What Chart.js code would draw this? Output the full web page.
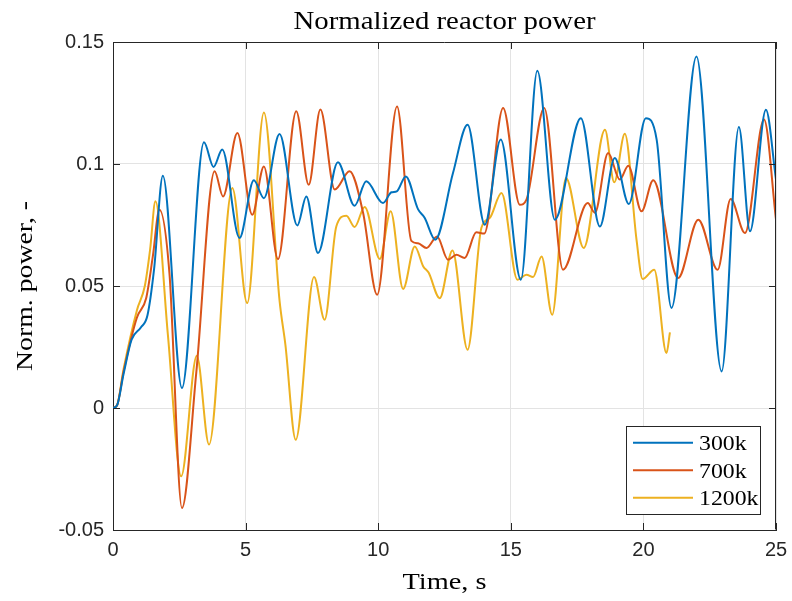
<!DOCTYPE html>
<html>
<head>
<meta charset="utf-8">
<script src="https://cdn.jsdelivr.net/npm/chart.js@4/dist/chart.umd.min.js"></script>
<style>
  html, body { margin: 0; padding: 0; background: #ffffff; }
  #wrap { width: 792px; height: 601px; }
</style>
</head>
<body>
<div id="wrap"><canvas id="c" width="792" height="601"></canvas></div>
<script>
// ---- data ----
const chartTitle = 'Normalized reactor power';
const xTitle = 'Time, s';
const yTitle = 'Norm. power, -';
const seriesNames = ['300k', '700k', '1200k'];
const seriesColors = ['#0072BD', '#D95319', '#EDB120'];

const t300 = [0, 0.15, 0.4, 0.7, 1.05, 1.3, 1.55, 1.88, 2.6, 3.43, 3.79, 4.12, 4.77, 5.31, 5.69, 6.28, 6.95, 7.29, 7.73, 8.48, 9.11, 9.55, 10.18, 10.5, 10.7, 11.04, 11.5, 11.75, 12.15, 12.82, 13.37, 14.02, 14.62, 15.38, 16.0, 16.66, 17.64, 18.36, 18.92, 19.45, 20.09, 20.5, 21.06, 22.0, 22.95, 23.6, 24.02, 24.62, 25.0];
const p300 = [0, 0.001, 0.014, 0.028, 0.033, 0.038, 0.057, 0.0952, 0.0082, 0.1089, 0.0988, 0.1059, 0.0697, 0.0933, 0.086, 0.1123, 0.0748, 0.0867, 0.0635, 0.1007, 0.0829, 0.0929, 0.084, 0.0884, 0.0888, 0.0949, 0.0815, 0.078, 0.069, 0.0963, 0.1161, 0.0751, 0.11, 0.0526, 0.1382, 0.0772, 0.1188, 0.0744, 0.1025, 0.0836, 0.1188, 0.11, 0.041, 0.1441, 0.015, 0.1152, 0.0724, 0.1222, 0.0936];

const t700 = [0, 0.15, 0.4, 0.9, 1.25, 1.5, 1.75, 2.13, 2.6, 3.14, 3.83, 4.15, 4.69, 5.25, 5.69, 6.22, 6.91, 7.38, 7.82, 8.36, 8.92, 9.43, 9.96, 10.71, 11.25, 11.5, 11.82, 12.22, 12.63, 12.95, 13.26, 13.7, 14.0, 14.71, 15.34, 15.59, 16.26, 16.97, 17.9, 18.17, 18.67, 19.11, 19.43, 19.93, 20.37, 21.31, 22.07, 22.8, 23.29, 23.83, 24.55, 25.0];
const p700 = [0, 0.001, 0.015, 0.037, 0.045, 0.062, 0.0813, 0.055, -0.041, 0.0145, 0.097, 0.0867, 0.1127, 0.0792, 0.099, 0.061, 0.1216, 0.0915, 0.1223, 0.0895, 0.097, 0.08, 0.0464, 0.1236, 0.0685, 0.0675, 0.0656, 0.0703, 0.0608, 0.0628, 0.0615, 0.072, 0.0715, 0.123, 0.0833, 0.0854, 0.123, 0.0567, 0.084, 0.08, 0.1045, 0.0936, 0.0993, 0.0806, 0.0933, 0.0533, 0.0772, 0.0567, 0.0857, 0.0717, 0.1182, 0.0772];

const t1200 = [0, 0.15, 0.4, 0.9, 1.2, 1.4, 1.6, 2.07, 2.57, 3.16, 3.62, 4.5, 5.06, 5.69, 6.28, 6.5, 6.89, 7.58, 7.98, 8.42, 8.8, 9.11, 9.49, 10.06, 10.47, 10.94, 11.38, 11.7, 11.9, 12.32, 12.8, 13.37, 13.89, 14.21, 14.65, 15.25, 15.59, 15.84, 16.16, 16.56, 17.08, 17.75, 18.55, 18.9, 19.3, 19.74, 19.97, 20.41, 20.87, 21.0];
const p1200 = [0, 0.001, 0.016, 0.04, 0.05, 0.065, 0.0847, 0.03, -0.028, 0.0214, -0.015, 0.0902, 0.043, 0.1211, 0.044, 0.026, -0.013, 0.0537, 0.0362, 0.0744, 0.0788, 0.0742, 0.0824, 0.0611, 0.0806, 0.0488, 0.0662, 0.058, 0.0555, 0.045, 0.0646, 0.0239, 0.0738, 0.0779, 0.0881, 0.0526, 0.0546, 0.0537, 0.0621, 0.0382, 0.0943, 0.0656, 0.114, 0.0925, 0.1124, 0.069, 0.0529, 0.0567, 0.0225, 0.031];

const xMin = 0, xMax = 25, xStep = 5;
const yMin = -0.05, yMax = 0.15, yStep = 0.05;

// ---- build datasets ----
function pts(ts, ps) { return ts.map((t, i) => ({ x: t, y: ps[i] })); }
const allT = [t300, t700, t1200];
const allP = [p300, p700, p1200];
const datasets = seriesNames.map((name, i) => ({
  label: name,
  data: pts(allT[i], allP[i]),
  borderColor: seriesColors[i],
  backgroundColor: seriesColors[i],
  borderWidth: 2,
  pointRadius: 0,
  fill: false,
  cubicInterpolationMode: 'monotone'
}));

const AXIS = '#262626';
const SERIF = '"Liberation Serif", "DejaVu Serif", serif';

function fitText(ctx, text, x, y, size, width, align) {
  ctx.save();
  ctx.font = size + 'px ' + SERIF;
  const w = ctx.measureText(text).width;
  const s = width / w;
  ctx.translate(x, y);
  ctx.scale(s, 1);
  ctx.textAlign = align || 'center';
  ctx.textBaseline = 'alphabetic';
  ctx.fillText(text, 0, 0);
  ctx.restore();
}

const decor = {
  id: 'decor',
  afterDraw(chart) {
    const ctx = chart.ctx;
    const a = chart.chartArea;
    const xs = chart.scales.x, ys = chart.scales.y;
    ctx.save();
    // box
    ctx.strokeStyle = AXIS;
    ctx.lineWidth = 1;
    ctx.beginPath();
    ctx.moveTo(a.left + 0.5, a.top + 0.5);
    ctx.lineTo(a.right - 0.5, a.top + 0.5);
    ctx.lineTo(a.right - 0.5, a.bottom - 0.5);
    ctx.stroke();
    // inward ticks
    const tl = 7;
    ctx.beginPath();
    xs.ticks.forEach(tk => {
      const px = Math.round(xs.getPixelForValue(tk.value)) + 0.5;
      ctx.moveTo(px, a.bottom); ctx.lineTo(px, a.bottom - tl);
      ctx.moveTo(px, a.top); ctx.lineTo(px, a.top + tl);
    });
    ys.ticks.forEach(tk => {
      const py = Math.round(ys.getPixelForValue(tk.value)) + 0.5;
      ctx.moveTo(a.left, py); ctx.lineTo(a.left + tl, py);
      ctx.moveTo(a.right, py); ctx.lineTo(a.right - tl, py);
    });
    ctx.stroke();

    // titles
    ctx.fillStyle = '#000000';
    const cx = (a.left + a.right) / 2;
    fitText(ctx, chartTitle, cx, 29, 25, 302);
    fitText(ctx, xTitle, cx, 589, 24, 84);
    ctx.save();
    ctx.translate(32, (a.top + a.bottom) / 2);
    ctx.rotate(-Math.PI / 2);
    fitText(ctx, yTitle, 0, 0, 24, 170);
    ctx.restore();

    // legend
    const bx = 626.5, by = 426.5, bw = 134, bh = 88;
    ctx.fillStyle = '#ffffff';
    ctx.fillRect(bx, by, bw, bh);
    ctx.strokeStyle = AXIS;
    ctx.lineWidth = 1;
    ctx.strokeRect(bx, by, bw, bh);
    const rows = [442.7, 470.3, 497.7];
    chart.data.datasets.forEach((ds, i) => {
      ctx.strokeStyle = ds.borderColor;
      ctx.lineWidth = 2;
      ctx.beginPath();
      ctx.moveTo(633, rows[i]);
      ctx.lineTo(693, rows[i]);
      ctx.stroke();
      ctx.fillStyle = '#000000';
      ctx.save();
      ctx.font = '22px ' + SERIF;
      const w = ctx.measureText(ds.label).width;
      ctx.restore();
      fitText(ctx, ds.label, 699, rows[i] + 7.5, 22, w * 1.08, 'left');
    });
    ctx.restore();
  }
};

new Chart(document.getElementById('c'), {
  type: 'line',
  data: { datasets },
  options: {
    responsive: false,
    animation: false,
    devicePixelRatio: 1,
    layout: { padding: { left: 0, right: 16, top: 42, bottom: 0 } },
    plugins: { legend: { display: false }, title: { display: false }, tooltip: { enabled: false } },
    scales: {
      x: {
        type: 'linear',
        min: xMin, max: xMax,
        afterFit(s) { s.height = 71; s.paddingLeft = 0; s.paddingRight = 0; },
        ticks: {
          stepSize: xStep,
          color: AXIS,
          font: { family: '"Liberation Sans", Arial, sans-serif', size: 20 },
          padding: 8,
          maxRotation: 0
        },
        grid: { color: '#e3e3e3', lineWidth: 1, drawTicks: false },
        border: { display: true, color: AXIS, width: 1 }
      },
      y: {
        type: 'linear',
        min: yMin, max: yMax,
        afterFit(s) { s.width = 113; s.paddingTop = 0; s.paddingBottom = 0; },
        ticks: {
          stepSize: yStep,
          color: AXIS,
          font: { family: '"Liberation Sans", Arial, sans-serif', size: 20 },
          padding: 9,
          callback: v => String(parseFloat(Number(v).toFixed(2)))
        },
        grid: { color: '#e3e3e3', lineWidth: 1, drawTicks: false },
        border: { display: true, color: AXIS, width: 1 }
      }
    }
  },
  plugins: [decor]
});
</script>
</body>
</html>
